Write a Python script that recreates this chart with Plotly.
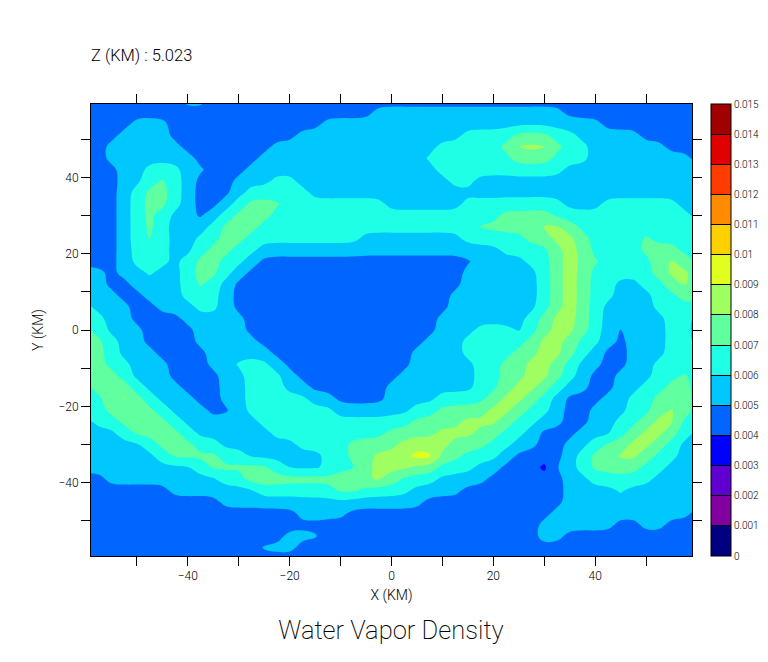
import numpy as np
import plotly.graph_objects as go

# grid nodes, km
x_km = [-60 + 2.5 * i for i in range(49)]
y_km = [60 - 3 * i for i in range(41)]

# contour band read at each grid node (band n means n*0.001 to (n+1)*0.001), top row first
band_rows = [
 [4]*8+[5]*2+[4]*39,
 [4]*23+[5]*15+[4]*11,
 [4]*4+[5]*3+[4]*12+[5]*22+[4]*8,
 [4]*3+[5]*4+[4]*10+[5]*13+[6]*4+[7]*3+[6]*2+[5]*5+[4]*5,
 [4]*2+[5]*6+[4]*7+[5]*13+[6]*5+[7]*1+[8]*3+[7]*1+[6]*2+[5]*6+[4]*3,
 [4]*2+[5]*7+[4]*5+[5]*13+[6]*7+[7]*3+[6]*3+[5]*8+[4]*1,
 [4]*3+[5]*2+[6]*3+[5]*2+[4]*3+[5]*15+[6]*10+[5]*11,
 [4]*3+[5]*2+[6]*1+[7]*1+[6]*1+[5]*1+[4]*3+[5]*3+[6]*2+[5]*12+[6]*2+[5]*18,
 [4]*3+[5]*1+[6]*1+[7]*2+[6]*1+[5]*1+[4]*3+[5]*1+[6]*5+[5]*31,
 [4]*3+[5]*1+[6]*1+[7]*2+[6]*1+[5]*1+[4]*2+[5]*1+[6]*1+[7]*3+[6]*8+[5]*6+[6]*8+[5]*3+[6]*6+[5]*2,
 [4]*3+[5]*1+[6]*1+[7]*1+[6]*1+[5]*2+[4]*1+[5]*1+[6]*1+[7]*3+[6]*18+[7]*4+[6]*11+[5]*1,
 [4]*3+[5]*1+[6]*1+[7]*1+[6]*1+[5]*1+[4]*1+[5]*1+[6]*1+[7]*3+[6]*17+[7]*5+[8]*2+[7]*1+[6]*10,
 [4]*3+[5]*1+[6]*1+[7]*1+[6]*1+[5]*2+[6]*2+[7]*2+[6]*9+[5]*8+[6]*5+[7]*2+[8]*2+[7]*1+[6]*4+[7]*1+[6]*4,
 [4]*3+[5]*1+[6]*3+[5]*2+[6]*1+[7]*2+[6]*2+[5]*19+[6]*4+[7]*1+[8.5]*1+[7]*1+[6]*4+[7]*3+[6]*2,
 [4]*3+[5]*1+[6]*3+[5]*1+[6]*1+[7]*2+[6]*2+[5]*1+[4]*17+[5]*4+[6]*2+[7]*1+[8.5]*1+[7]*2+[6]*4+[7]*1+[8]*1+[7]*1+[6]*1,
 [5]*2+[4]*1+[5]*1+[5]*1+[6]*1+[5]*2+[6]*1+[7]*2+[6]*1+[5]*1+[4]*17+[5]*6+[6]*1+[7]*1+[8.5]*1+[7]*1+[6]*5+[7]*1+[8]*2+[7]*1,
 [5]*2+[4]*2+[5]*4+[6]*1+[7]*1+[6]*1+[5]*1+[4]*18+[5]*6+[6]*1+[7]*1+[8.5]*1+[7]*1+[6]*2+[5]*2+[6]*2+[7]*1+[8]*1+[7]*1,
 [5]*3+[4]*2+[5]*3+[6]*3+[5]*1+[4]*17+[5]*7+[6]*1+[7]*1+[8.5]*1+[7]*1+[6]*2+[5]*3+[6]*2+[7]*2,
 [6]*1+[5]*3+[4]*2+[5]*3+[6]*2+[5]*1+[4]*17+[5]*7+[6]*1+[7]*1+[8.5]*1+[7]*1+[6]*1+[5]*4+[6]*4,
 [6]*2+[5]*2+[4]*4+[5]*5+[4]*15+[5]*7+[6]*1+[7]*1+[8]*2+[7]*1+[6]*1+[5]*5+[6]*2+[5]*1,
 [7]*1+[6]*1+[5]*3+[4]*4+[5]*4+[4]*15+[5]*3+[6]*3+[5]*1+[6]*1+[7]*1+[8]*2+[7]*1+[6]*1+[5]*1+[4]*1+[5]*3+[6]*2+[5]*1,
 [7]*2+[6]*1+[5]*2+[4]*4+[5]*5+[4]*13+[5]*3+[6]*5+[7]*1+[8]*2+[7]*1+[6]*2+[5]*1+[4]*1+[5]*3+[6]*2+[5]*1,
 [7]*2+[6]*1+[5]*3+[4]*4+[5]*3+[5]*2+[4]*11+[5]*4+[6]*4+[7]*2+[8]*2+[7]*1+[6]*1+[5]*1+[4]*2+[5]*3+[6]*3,
 [7]*2+[6]*2+[5]*3+[4]*3+[5]*2+[6]*3+[5]*1+[4]*10+[5]*5+[6]*2+[7]*2+[8]*2+[7]*1+[6]*1+[5]*2+[4]*2+[5]*2+[6]*4,
 [7]*3+[6]*1+[5]*3+[4]*4+[5]*2+[6]*3+[5]*1+[4]*8+[5]*6+[6]*2+[7]*2+[8]*2+[7]*1+[6]*1+[5]*1+[4]*2+[5]*3+[6]*2+[7]*1+[6]*1,
 [6]*1+[7,8.2,7]+[6]*1+[5]*3+[4]*3+[5]*2+[6]*3+[5]*2+[4]*6+[5]*7+[6]*2+[7]*1+[8]*2+[7]*1+[6]*1+[5]*2+[4]*2+[5]*2+[6]*2+[7]*2+[6]*1,
 [6]*2+[7,8.2,7]+[6]*1+[5]*3+[4]*2+[5]*2+[6]*5+[5]*2+[4]*4+[5]*4+[6]*4+[7]*1+[8]*2+[7]*1+[6]*1+[5]*1+[4]*3+[5]*2+[6]*2+[7]*3+[6]*1,
 [6]*2+[7]*4+[6]*1+[5]*3+[4]*2+[5]*1+[6]*7+[5]*6+[6]*2+[7]*4+[8]*2+[7]*1+[6]*2+[5]*1+[4]*2+[5]*3+[6]*2+[7]*1+[8]*1+[7]*1+[6]*1,
 [5]*1+[6]*2+[7]*4+[6]*1+[5]*6+[6]*12+[7]*4+[8]*3+[7]*1+[6]*2+[5]*2+[4]*2+[5]*2+[6]*2+[7]*1+[8]*2+[6]*2,
 [5]*3+[6]*1+[7]*4+[6]*1+[5]*6+[6]*9+[7]*4+[8]*3+[7]*2+[6]*2+[5]*1+[4]*3+[5]*3+[6]*1+[7]*1+[8]*2+[7]*1+[6]*1+[5]*1,
 [5]*5+[6]*1+[7]*3+[6]*2+[5]*6+[6]*4+[7]*4+[8]*4+[7]*3+[6]*2+[5]*2+[4]*2+[5]*2+[6]*1+[7]*2+[8]*2+[7]*1+[6]*1+[5]*2,
 [5]*6+[6]*1+[7]*4+[6]*2+[5]*6+[6]*2+[7]*2+[8]*3+[9.6,9.6]+[7]*2+[6]*3+[5]*1+[4]*4+[5]*1+[6]*1+[7]*2+[8]*2+[7]*1+[6]*2+[5]*2,
 [5]*9+[6]*1+[7]*5+[6]*1+[5]*4+[6]*2+[7]*1+[8]*3+[7]*2+[6]*3+[5]*2+[4,4,4,2.3]+[5]*2+[6]*1+[7]*4+[6]*2+[5]*3,
 [4]*2+[5]*9+[6]*2+[7.4]*9+[8]*2+[7]*1+[6]*3+[5]*4+[4]*6+[5]*2+[6]*5+[5]*4,
 [4]*7+[5]*7+[6]*6+[7]*2+[6]*4+[5]*4+[4]*8+[5]*4+[6]*1+[5]*6,
 [4]*11+[5]*16+[4]*11+[5]*11,
 [4]*17+[5]*4+[4]*16+[5]*11+[4]*1,
 [4]*36+[5]*6+[4]*2+[5]*2+[4]*3,
 [4]*16+[5]*3+[4]*17+[5]*2+[4]*11,
 [4]*14+[5]*3+[4]*18+[5]*1+[4]*13,
 [4]*49,
]

level_colors = ["#000080","#8000A0","#6000D0","#0000FF","#0066FF","#00C8FF","#1EFFE6","#60FFA0",
                "#A0FF60","#E0FF1E","#FFD000","#FF8C00","#FF3C00","#E00000","#A00000"]
level_ticks = [0,0.001,0.002,0.003,0.004,0.005,0.006,0.007,0.008,0.009,0.01,0.011,0.012,0.013,0.014,0.015]
level_labels = ["0","0.001","0.002","0.003","0.004","0.005","0.006","0.007","0.008","0.009","0.01",
                "0.011","0.012","0.013","0.014","0.015"]
x_ticks = [-50,-40,-30,-20,-10,0,10,20,30,40,50]
x_labels = ["","\u221240","","\u221220","","0","","20","","40",""]
y_ticks = [-50,-40,-30,-20,-10,0,10,20,30,40,50]
y_labels = ["","\u221240","","\u221220","","0","","20","","40",""]

rows = [(r + [r[-1]] * 49)[:49] for r in band_rows]
z = np.array(rows, dtype=float) + 0.5

# the node readings are whole bands: ease the one-node steps between them so the level lines run round
def ease(a, axis):
    lo = np.roll(a, 1, axis)
    hi = np.roll(a, -1, axis)
    if axis == 0:
        lo[0, :] = a[0, :]; hi[-1, :] = a[-1, :]
    else:
        lo[:, 0] = a[:, 0]; hi[:, -1] = a[:, -1]
    return (lo + 4 * a + hi) / 6
z = ease(ease(z, 0), 1) * 0.001

n = len(level_colors)
scale = []
for i, c in enumerate(level_colors):
    scale += [[i / n, c], [(i + 1) / n, c]]

FONT = "Roboto"
W = 300
fig = go.Figure(go.Contour(
    x=x_km, y=y_km, z=z, zmin=0, zmax=0.015, colorscale=scale,
    contours=dict(coloring="fill", start=0, end=0.015, size=0.001, showlines=False),
    line=dict(width=0, smoothing=1.2),
    colorbar=dict(
        thicknessmode="pixels", thickness=20, lenmode="pixels", len=452,
        x=(711.5 - 90.5) / 601.5, xanchor="left", xpad=0,
        y=1, yanchor="top", ypad=0,
        outlinecolor="black", outlinewidth=1, borderwidth=0,
        tickmode="array", tickvals=level_ticks, ticktext=level_labels,
        ticks="inside", ticklen=20, tickwidth=1, tickcolor="black",
        tickfont=dict(family=FONT, size=10, color="black", weight=W),
    ),
))
fig.update_xaxes(
    range=[-59, 59], tickmode="array", tickvals=x_ticks, ticktext=x_labels,
    ticks="outside", ticklen=9, tickwidth=1, tickcolor="black",
    showline=True, linecolor="black", linewidth=1, mirror="ticks", showgrid=False, zeroline=False,
    tickfont=dict(family=FONT, size=12, color="black", weight=W),
    title=dict(text="X (KM)", font=dict(family=FONT, size=14, color="black", weight=W), standoff=7),
)
fig.update_yaxes(
    range=[-59.2, 59.2], tickmode="array", tickvals=y_ticks, ticktext=y_labels,
    ticks="outside", ticklen=9, tickwidth=1, tickcolor="black",
    showline=True, linecolor="black", linewidth=1, mirror="ticks", showgrid=False, zeroline=False,
    tickfont=dict(family=FONT, size=12, color="black", weight=W),
    title=dict(text="Y (KM)", font=dict(family=FONT, size=14, color="black", weight=W), standoff=11),
)
fig.update_layout(
    width=768, height=662, autosize=False,
    margin=dict(l=90.5, r=76, t=104, b=106, pad=0, autoexpand=False),
    plot_bgcolor="white", paper_bgcolor="white",
    title=dict(text="Water Vapor Density", x=391 / 768, xanchor="center", y=1 - 630 / 662, yanchor="middle",
               font=dict(family=FONT, size=25.5, color="black", weight=200)),
    annotations=[dict(text="Z (KM) : 5.023", xref="paper", yref="paper", x=-0.003, y=1 + 49 / 452,
                      xanchor="left", yanchor="middle", showarrow=False,
                      font=dict(family=FONT, size=16.5, color="black", weight=W))],
)
fig.write_html("out.html", config=dict(displayModeBar=False), post_script="document.body.style.margin='0';")
